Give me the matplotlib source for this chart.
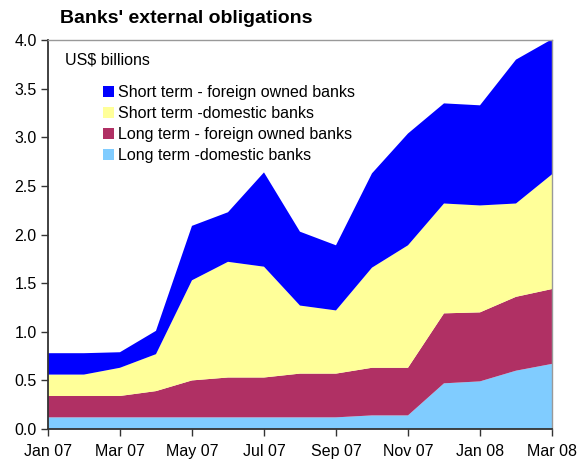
import numpy as np
import matplotlib.pyplot as plt

plt.rcParams['font.family'] = ['Liberation Sans', 'DejaVu Sans']

months = ["Jan 07", "Feb 07", "Mar 07", "Apr 07", "May 07", "Jun 07", "Jul 07",
          "Aug 07", "Sep 07", "Oct 07", "Nov 07", "Dec 07", "Jan 08", "Feb 08", "Mar 08"]

# US$ billions, stacked bottom to top
lt_domestic = [0.12, 0.12, 0.12, 0.12, 0.12, 0.12, 0.12, 0.12, 0.12, 0.14, 0.14, 0.47, 0.49, 0.60, 0.67]
lt_foreign = [0.22, 0.22, 0.22, 0.27, 0.38, 0.41, 0.41, 0.45, 0.45, 0.49, 0.49, 0.72, 0.71, 0.76, 0.77]
st_domestic = [0.22, 0.22, 0.29, 0.38, 1.03, 1.19, 1.14, 0.70, 0.65, 1.03, 1.26, 1.13, 1.10, 0.96, 1.18]
st_foreign = [0.22, 0.22, 0.16, 0.24, 0.56, 0.51, 0.97, 0.76, 0.67, 0.97, 1.15, 1.03, 1.03, 1.48, 1.39]

labels = ["Long term -domestic banks", "Long term - foreign owned banks",
          "Short term -domestic banks", "Short term - foreign owned banks"]
colors = ["#80CCFF", "#B03064", "#FFFF99", "#0000FF"]

x = np.arange(len(months))

fig = plt.figure(figsize=(5.78, 4.62), dpi=100)
ax = fig.add_axes([0.083, 0.0714, 0.872, 0.8416])

ax.stackplot(x, lt_domestic, lt_foreign, st_domestic, st_foreign,
             colors=colors, labels=labels, linewidth=0)

ax.set_xlim(0, len(months) - 1)
ax.set_ylim(0, 4.0)
ax.set_yticks(np.arange(0, 4.01, 0.5))
ax.set_yticklabels([f"{v:.1f}" for v in np.arange(0, 4.01, 0.5)], fontsize=11.5)
ax.set_xticks(x[::2])
ax.set_xticklabels(months[::2], fontsize=11.5)
ax.tick_params(axis='both', direction='out', length=5, width=1, color='#333333')
ax.tick_params(axis='x', pad=6)
ax.tick_params(axis='y', pad=3)

for side in ['top', 'right']:
    ax.spines[side].set_color('#999999')
    ax.spines[side].set_linewidth(1)
for side in ['left', 'bottom']:
    ax.spines[side].set_color('#333333')
    ax.spines[side].set_linewidth(1.3)

ax.text(0.034, 0.968, "US$ billions", transform=ax.transAxes, fontsize=11.5,
        ha='left', va='top')

handles, labs = ax.get_legend_handles_labels()
leg = ax.legend(handles[::-1], labs[::-1], loc='upper left',
                bbox_to_anchor=(0.097, 0.902), frameon=False, fontsize=11.5,
                handlelength=0.7, handleheight=0.7, handletextpad=0.25,
                labelspacing=0.39, borderaxespad=0)

fig.text(0.104, 0.961, "Banks' external obligations", fontsize=14,
         fontweight='bold', ha='left', va='center')

fig.savefig("out.png", dpi=100)
